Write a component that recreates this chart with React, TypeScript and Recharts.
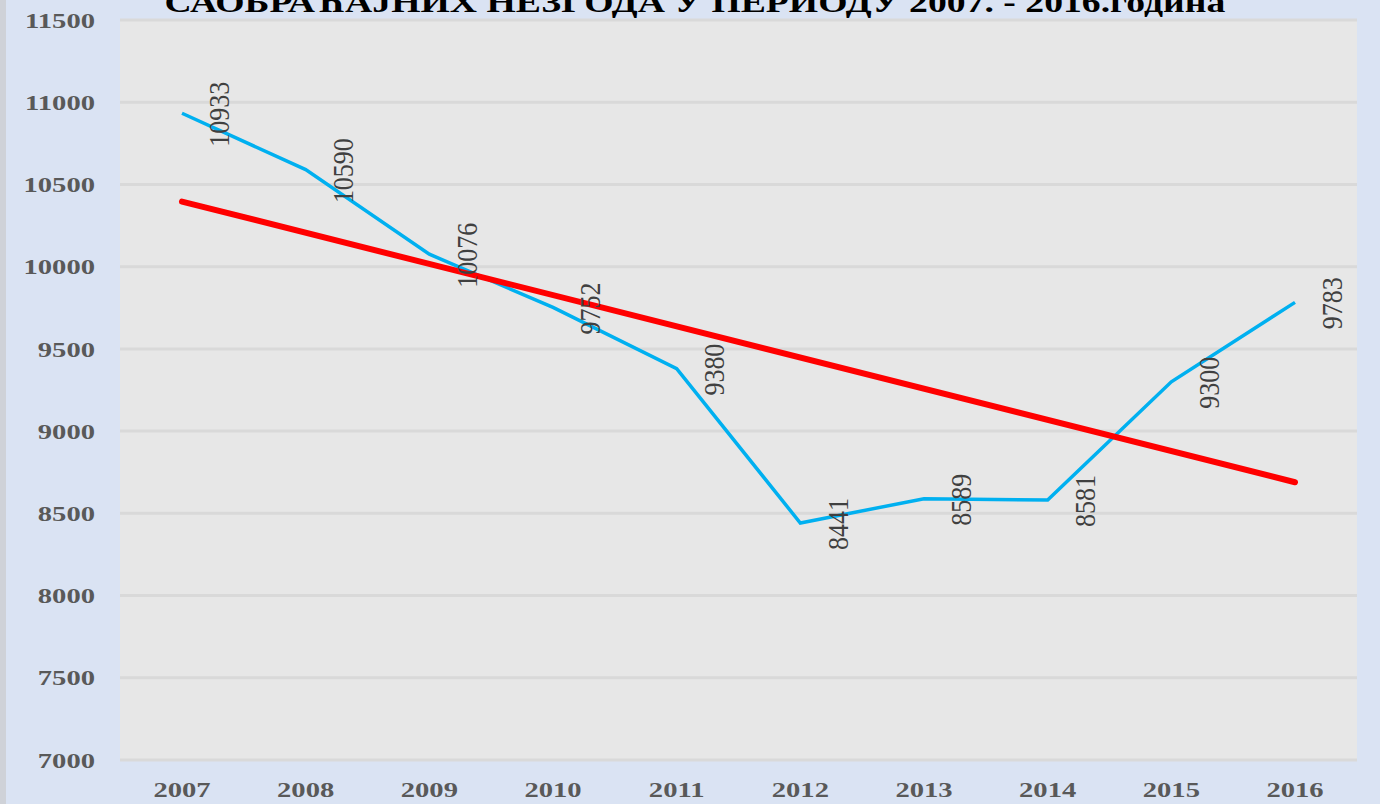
import React from "react";
import {
  LineChart,
  Line,
  XAxis,
  YAxis,
  CartesianGrid,
  LabelList,
} from "recharts";

const years = ["2007", "2008", "2009", "2010", "2011", "2012", "2013", "2014", "2015", "2016"];
const accidents = [10933, 10590, 10076, 9752, 9380, 8441, 8589, 8581, 9300, 9783];
// linear trend, only its two ends are drawn and joined
const trend = [10396, null, null, null, null, null, null, null, null, 8689];
const yTicks = [7000, 7500, 8000, 8500, 9000, 9500, 10000, 10500, 11000, 11500];

const title = "САОБРАЋАЈНИХ НЕЗГОДА У ПЕРИОДУ 2007. - 2016.година";

const data = years.map((year, i) => ({
  year,
  value: accidents[i],
  trend: trend[i],
}));

const SERIF = "'Liberation Serif', 'Times New Roman', serif";
const STRETCH = 1.3;

function XTick(props: any) {
  const { x, payload } = props;
  return (
    <g transform={`translate(${x}, 789) scale(${STRETCH}, 1)`}>
      <text
        x={0}
        y={0}
        dy="0.35em"
        textAnchor="middle"
        fontFamily={SERIF}
        fontWeight="bold"
        fontSize={22}
        fill="#595959"
      >
        {payload.value}
      </text>
    </g>
  );
}

function YTick(props: any) {
  const { y, payload } = props;
  return (
    <g transform={`translate(95, ${y}) scale(${STRETCH}, 1)`}>
      <text
        x={0}
        y={0}
        dy="0.35em"
        textAnchor="end"
        fontFamily={SERIF}
        fontWeight="bold"
        fontSize={22}
        fill="#595959"
      >
        {payload.value}
      </text>
    </g>
  );
}

function ValueLabel(props: any) {
  const { x, y, value } = props;
  return (
    <g transform={`translate(${x + 37}, ${y + 1}) scale(1.15, 1) rotate(-90)`}>
      <text
        x={0}
        y={0}
        dy="0.35em"
        textAnchor="middle"
        fontFamily={SERIF}
        fontSize={26}
        fill="#404040"
      >
        {value}
      </text>
    </g>
  );
}

export default function App() {
  return (
    <div
      style={{
        position: "absolute",
        left: 0,
        top: 0,
        width: 1380,
        height: 804,
        background: "#dae3f3",
        overflow: "hidden",
      }}
    >
      <div
        style={{
          position: "absolute",
          left: 0,
          top: 0,
          width: 6,
          height: 804,
          background: "#cfd2d8",
        }}
      />
      <svg
        width={1380}
        height={30}
        style={{ position: "absolute", left: 0, top: 0 }}
      >
        <g transform={`translate(695, 12) scale(${STRETCH}, 1)`}>
          <text
            x={0}
            y={0}
            textAnchor="middle"
            fontFamily={SERIF}
            fontWeight="bold"
            fontSize={29}
            fill="#000000"
          >
            {title}
          </text>
        </g>
      </svg>
      <LineChart
        width={1380}
        height={804}
        data={data}
        margin={{ top: 20, right: 23, left: 0, bottom: 0 }}
        style={{ position: "absolute", left: 0, top: 0 }}
      >
        <CartesianGrid
          vertical={false}
          fill="#e7e7e7"
          stroke="#d9d9d9"
          strokeWidth={3}
        />
        <XAxis
          dataKey="year"
          height={44}
          padding={{ left: 62, right: 62 }}
          axisLine={false}
          tickLine={false}
          tick={<XTick />}
          interval={0}
        />
        <YAxis
          width={120}
          domain={[7000, 11500]}
          ticks={yTicks}
          axisLine={false}
          tickLine={false}
          tick={<YTick />}
          interval={0}
        />
        <Line
          dataKey="value"
          stroke="#00b0f0"
          strokeWidth={3.5}
          dot={false}
          activeDot={false}
          isAnimationActive={false}
        >
          <LabelList dataKey="value" content={<ValueLabel />} />
        </Line>
        <Line
          dataKey="trend"
          stroke="#ff0000"
          strokeWidth={6}
          strokeLinecap="round"
          connectNulls
          dot={false}
          activeDot={false}
          isAnimationActive={false}
        />
      </LineChart>
    </div>
  );
}
